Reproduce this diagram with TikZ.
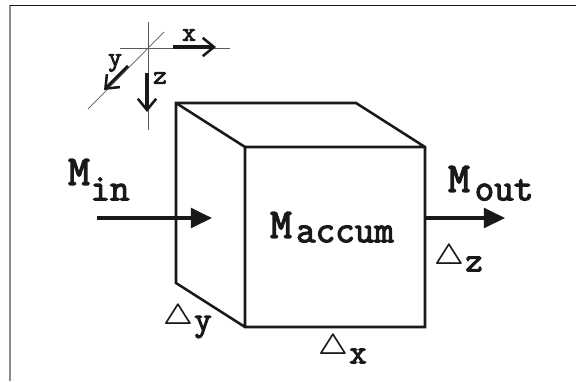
\documentclass[tikz,border=0pt]{standalone}
\usepackage{amsmath,amssymb}
\usepackage{fontspec}
\newfontfamily\slabfont[FakeBold=3]{Latin Modern Mono}
\usetikzlibrary{arrows.meta,positioning}

\begin{document}
\begin{tikzpicture}[
  x=0.025cm, y=-0.025cm,
  edge/.style={line width=1.8pt, draw=black!90, line join=miter},
  guide/.style={line width=0.5pt, draw=black!65},
  flow/.style={-{Triangle[length=15pt,width=14pt]}, line width=2.7pt, draw=black!90},
  axis arrow/.style={-{Straight Barb[length=8pt,width=13pt,line width=1.8pt]}, line width=2.2pt, draw=black!90},
  big label/.style={inner sep=0pt, font=\slabfont\fontsize{30}{30}\selectfont, text=black!90},
  sub label/.style={inner sep=0pt, font=\slabfont\fontsize{27}{27}\selectfont, text=black!90},
  size label/.style={inner sep=0pt, font=\slabfont\fontsize{24}{24}\selectfont, text=black!90},
  small label/.style={inner sep=0pt, font=\slabfont\fontsize{19}{19}\selectfont, text=black!90},
  delta label/.style={inner sep=0pt, font=\boldmath\fontsize{20}{20}\selectfont, text=black!90}
]
  \useasboundingbox (0,0) rectangle (576,381);

  % frame
  \coordinate (f0) at (10,381);
  \coordinate (f1) at (10,5);
  \coordinate (f2) at (576,5);
  \draw[line width=1.2pt, black!45] (f0) -- (f1);
  \draw[line width=0.7pt, black!90] (f1) -- (f2);

  % cube
  \coordinate (c1) at (176,103);
  \coordinate (c2) at (356,103);
  \coordinate (c3) at (245,147);
  \coordinate (c4) at (425,147);
  \coordinate (c5) at (425,327);
  \coordinate (c6) at (245,327);
  \coordinate (c7) at (176,283);
  \draw[edge] (c6) -- (c7) -- (c1) -- (c2) -- (c4) -- (c5) -- (c6) -- (c3) -- (c4);
  \draw[edge] (c1) -- (c3);

  % axes
  \coordinate (h1) at (120,48);
  \coordinate (h2) at (230,48);
  \coordinate (v1) at (148,22);
  \coordinate (v2) at (148,130);
  \coordinate (d1) at (164,32);
  \coordinate (d2) at (88,109);
  \draw[guide] (h1) -- (h2);
  \draw[guide] (v1) -- (v2);
  \draw[guide] (d1) -- (d2);

  \coordinate (xa) at (173,47);
  \coordinate (xb) at (216,47);
  \coordinate (ya) at (128,66);
  \coordinate (yb) at (104,90);
  \coordinate (za) at (147,73);
  \coordinate (zb) at (147,112);
  \draw[axis arrow] (xa) -- (xb);
  \draw[axis arrow] (ya) -- (yb);
  \draw[axis arrow] (za) -- (zb);
  \node[small label] (xl) at (189,35) {x};
  \node[small label] (yl) at (115,63) {y};
  \node[small label] (zl) at (160,78) {z};

  % flows
  \coordinate (ia) at (97,218);
  \coordinate (ib) at (212,218);
  \coordinate (oa) at (425,218);
  \coordinate (ob) at (505,218);
  \draw[flow] (ia) -- (ib);
  \draw[flow] (oa) -- (ob);

  \node[big label] (mi) at (79,172) {M};
  \node[sub label] (min) at (110,189) {in};
  \node[big label] (mo) at (459,179) {M};
  \node[sub label] (mout) at (504,190) {out};
  \node[big label] (ma) at (281,225) {M};
  \node[sub label] (mac) at (345,234) {accum};

  % sizes
  \node[delta label] (dx) at (333,347) {$\triangle$};
  \node[size label] (dxl) at (358,356) {x};
  \node[delta label] (dy) at (178,317) {$\triangle$};
  \node[size label] (dyl) at (203,327) {y};
  \node[delta label] (dz) at (449,257) {$\triangle$};
  \node[size label] (dzl) at (474,264) {z};
\end{tikzpicture}
\end{document}
